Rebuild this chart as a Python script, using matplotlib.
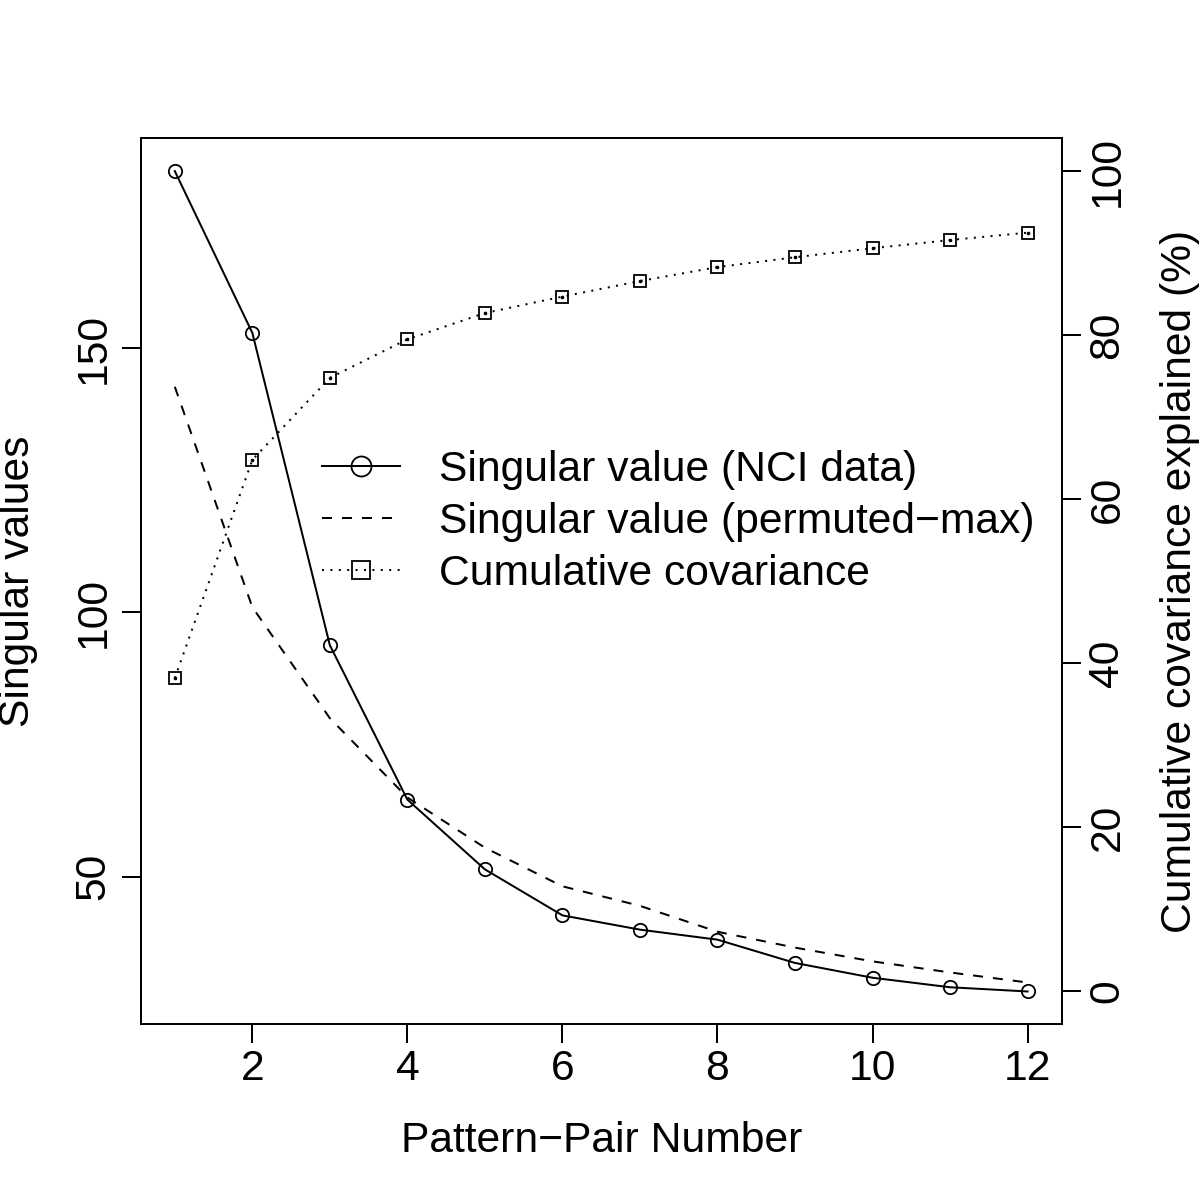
import matplotlib
matplotlib.use("Agg")
import matplotlib.pyplot as plt

plt.rcParams['font.family'] = ['Liberation Sans', 'DejaVu Sans']

# ---- data ----
pair_number = [1, 2, 3, 4, 5, 6, 7, 8, 9, 10, 11, 12]
sv_nci = [183.5, 152.9, 93.8, 64.6, 51.4, 42.7, 40.0, 38.1, 33.7, 30.9, 29.1, 28.3]
sv_perm_max = [142.7, 101.0, 80.0, 65.0, 55.5, 48.2, 44.5, 39.6, 36.6, 34.0, 31.9, 30.0]
cum_cov = [38.2, 64.8, 74.8, 79.5, 82.7, 84.7, 86.6, 88.3, 89.5, 90.6, 91.6, 92.5]
x_ticks = [2, 4, 6, 8, 10, 12]
left_ticks = [50, 100, 150]
right_ticks = [0, 20, 40, 60, 80, 100]

labels = ["Singular value (NCI data)", "Singular value (permuted\u2212max)", "Cumulative covariance"]

FS = 30.7
LW = 1.44
W, H = 1200, 1200

fig = plt.figure(figsize=(12, 12), dpi=100)
L, R, T, B = 140.7, 1061.7, 138.3, 1024.3
ax = fig.add_axes([L / W, 1 - B / H, (R - L) / W, (B - T) / H])
ax2 = ax.twinx()

def r_lim(vals, pad=0.04):
    lo, hi = min(vals), max(vals)
    d = hi - lo
    return lo - pad * d, hi + pad * d

ax.set_xlim(*r_lim(pair_number))
ax.set_ylim(*r_lim(sv_nci + sv_perm_max))
ax2.set_ylim(*r_lim([0, 100]))

h1, = ax.plot(pair_number, sv_nci, color='black', lw=LW, marker='o', ms=9.6,
              mfc='none', mec='black', mew=1.3)
h2, = ax.plot(pair_number, sv_perm_max, color='black', lw=LW, ls=(0, (5, 5)))
h3, = ax2.plot(pair_number, cum_cov, color='black', lw=LW, ls=(0, (1, 3.2)),
               marker='s', ms=8.6, mfc='none', mec='black', mew=1.3)
ax2.plot(pair_number, cum_cov, ls='none', marker='o', ms=1.6, color='black')

ax.set_xticks(x_ticks)
ax.set_yticks(left_ticks)
ax2.set_yticks(right_ticks)

for a in (ax, ax2):
    for s in a.spines.values():
        s.set_linewidth(LW)
    a.tick_params(direction='out', length=13.5, width=LW, labelsize=FS, color='black')

ax.tick_params(axis='x', pad=4.3)
ax.tick_params(axis='y', pad=6, labelrotation=90)
ax2.tick_params(axis='y', pad=5, labelrotation=90)
for t in ax.get_yticklabels():
    t.set_va('center')
for t in ax2.get_yticklabels():
    t.set_va('center')

fig.text(601.2 / W, 1 - 1141 / H, "Pattern\u2212Pair Number", fontsize=FS, ha='center', va='center')
fig.text(18 / W, 1 - 581.3 / H, "Singular values", fontsize=FS, ha='center', va='center', rotation=90)
fig.text(1180 / W, 1 - 581.3 / H, "Cumulative covariance explained (%)", fontsize=FS,
         ha='center', va='center', rotation=90)

leg = ax2.legend([h1, h2, h3], labels, loc='center left', frameon=False, fontsize=FS,
                 bbox_to_anchor=(322 / W, 1 - 522 / H), bbox_transform=fig.transFigure,
                 borderpad=0, borderaxespad=0, handlelength=78 / 42.6, handletextpad=39 / 42.6,
                 labelspacing=0.29, markerscale=1.5)

fig.savefig("out.png", dpi=100)
